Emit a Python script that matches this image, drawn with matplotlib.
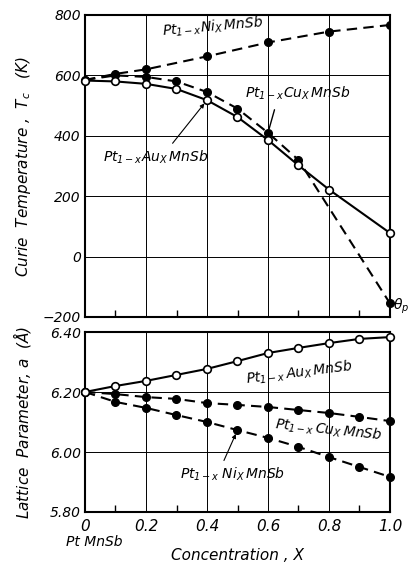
import matplotlib
matplotlib.use("Agg")
import matplotlib.pyplot as plt
from matplotlib.ticker import MultipleLocator

plt.rcParams['font.family'] = ['DejaVu Sans']
plt.rcParams['font.style'] = 'italic'
plt.rcParams['mathtext.fontset'] = 'dejavusans'

# ---- Curie temperature data ----
x_ni_tc = [0, 0.1, 0.2, 0.4, 0.6, 0.8, 1.0]
tc_ni = [585, 605, 620, 663, 709, 745, 767]

x_cu_tc = [0, 0.1, 0.2, 0.3, 0.4, 0.5, 0.6, 0.7, 1.0]
tc_cu = [585, 600, 595, 580, 545, 490, 410, 320, -155]

x_au_tc = [0, 0.1, 0.2, 0.3, 0.4, 0.5, 0.6, 0.7, 0.8, 1.0]
tc_au = [583, 580, 572, 555, 518, 462, 386, 302, 222, 78]

# ---- Lattice parameter data ----
x_lat = [0, 0.1, 0.2, 0.3, 0.4, 0.5, 0.6, 0.7, 0.8, 0.9, 1.0]
a_au = [6.200, 6.220, 6.237, 6.257, 6.277, 6.303, 6.330, 6.347, 6.363, 6.377, 6.383]
a_cu = [6.200, 6.193, 6.183, 6.177, 6.163, 6.157, 6.150, 6.140, 6.130, 6.117, 6.103]
a_ni = [6.200, 6.167, 6.147, 6.123, 6.100, 6.073, 6.047, 6.017, 5.983, 5.950, 5.917]

tc_ticks = [-200, 0, 200, 400, 600, 800]
a_ticks = [5.80, 6.00, 6.20, 6.40]
a_ticklabels = ['5.80', '6.00', '6.20', '6.40']
x_ticks = [0, 0.2, 0.4, 0.6, 0.8, 1.0]
x_ticklabels = ['0', '0.2', '0.4', '0.6', '0.8', '1.0']

W, H = 410, 564
fig = plt.figure(figsize=(W / 100, H / 100), dpi=100)

def rect(l, t, r, b):
    return [l / W, 1 - b / H, (r - l) / W, (b - t) / H]

ax1 = fig.add_axes(rect(85, 15, 390, 317))
ax2 = fig.add_axes(rect(85, 332, 390, 512))

lw = 1.5
ms = 5.5
dash = (0, (5, 3))

def style(ax):
    for s in ax.spines.values():
        s.set_linewidth(1.5)
    ax.set_xlim(0, 1.0)
    ax.xaxis.set_minor_locator(MultipleLocator(0.1))
    ax.tick_params(axis='x', which='minor', direction='in', length=5, width=1, top=False)
    ax.tick_params(axis='x', which='major', length=0)
    ax.tick_params(axis='y', which='major', length=0, labelsize=10, pad=3)
    ax.grid(True, which='major', color='black', linewidth=0.7)
    ax.set_axisbelow(True)

# ---- Top panel ----
style(ax1)
ax1.set_ylim(-200, 800)
ax1.set_yticks(tc_ticks)
ax1.set_yticklabels(['\u2212200' if v < 0 else str(v) for v in tc_ticks])
ax1.set_xticks(x_ticks)
ax1.set_xticklabels([])

ax1.plot(x_ni_tc, tc_ni, color='black', lw=lw, ls=dash, marker='o', ms=ms,
         mfc='black', mec='black', zorder=3)
ax1.plot(x_cu_tc, tc_cu, color='black', lw=lw, ls=dash, marker='o', ms=ms,
         mfc='black', mec='black', zorder=3, clip_on=False)
ax1.plot(x_au_tc, tc_au, color='black', lw=lw, ls='-', marker='o', ms=ms,
         mfc='white', mec='black', mew=1.2, zorder=4, clip_on=False)

ax1.text(0.25, 762, r'$Pt_{1-x}Ni_{X}\,MnSb$', fontsize=10, ha='left',
         va='center', rotation=5)
ax1.annotate(r'$Pt_{1-x}Cu_{X}\,MnSb$', xy=(0.6, 410), xytext=(0.525, 542),
             fontsize=10, ha='left', va='center',
             arrowprops=dict(arrowstyle='-', color='black', lw=1,
                             shrinkA=4, shrinkB=3, relpos=(0.3, 0.0)))
ax1.annotate(r'$Pt_{1-x}Au_{X}\,MnSb$', xy=(0.4, 518), xytext=(0.06, 330),
             fontsize=10, ha='left', va='center',
             arrowprops=dict(arrowstyle='-|>', color='black', lw=0.8,
                             mutation_scale=6, shrinkA=2, shrinkB=3,
                             relpos=(0.62, 1.0)))
ax1.text(1.01, -165, r'$\theta_p$', fontsize=10, ha='left', va='center',
         clip_on=False)
ax1.set_ylabel(r'Curie  Temperature ,  $T_c$   (K)', fontsize=11)
ax1.yaxis.set_label_coords(-0.17, 0.5)

# ---- Bottom panel ----
style(ax2)
ax2.set_ylim(5.80, 6.40)
ax2.set_yticks(a_ticks)
ax2.set_yticklabels(a_ticklabels)
ax2.set_xticks(x_ticks)
ax2.set_xticklabels(x_ticklabels, fontsize=11)
ax2.tick_params(axis='x', which='major', pad=5)

ax2.plot(x_lat, a_au, color='black', lw=lw, ls='-', marker='o', ms=ms,
         mfc='white', mec='black', mew=1.2, zorder=4, clip_on=False)
ax2.plot(x_lat, a_cu, color='black', lw=lw, ls=dash, marker='o', ms=ms,
         mfc='black', mec='black', zorder=3, clip_on=False)
ax2.plot(x_lat, a_ni, color='black', lw=lw, ls=dash, marker='o', ms=ms,
         mfc='black', mec='black', zorder=3, clip_on=False)

ax2.text(0.525, 6.265, r'$Pt_{1-x}\,Au_{X}\,MnSb$', fontsize=10, ha='left',
         va='center', rotation=7)
ax2.text(0.62, 6.075, r'$Pt_{1-x}\,Cu_{X}\,MnSb$', fontsize=10, ha='left',
         va='center', rotation=-6)
ax2.annotate(r'$Pt_{1-x}\;Ni_{X}\,MnSb$', xy=(0.5, 6.073), xytext=(0.31, 5.925),
             fontsize=10, ha='left', va='center',
             arrowprops=dict(arrowstyle='-|>', color='black', lw=0.8,
                             mutation_scale=6, shrinkA=2, shrinkB=3,
                             relpos=(0.4, 1.0)))
ax2.set_ylabel(r'Lattice  Parameter, $a$  ($\AA$)', fontsize=11)
ax2.yaxis.set_label_coords(-0.17, 0.5)
ax2.set_xlabel('Concentration , X', fontsize=11, labelpad=10)
ax2.text(0.03, -0.125, 'Pt MnSb', transform=ax2.transAxes, fontsize=10,
         ha='center', va='top')

fig.savefig('out.png', dpi=100)
